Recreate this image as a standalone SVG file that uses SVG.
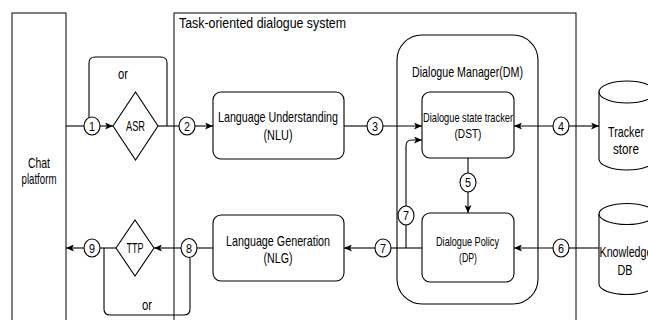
<svg xmlns="http://www.w3.org/2000/svg" width="648" height="320" viewBox="0 0 648 320">
<defs>
<style>
.box{fill:#fff;stroke:#000;stroke-width:1.1}
.frame{fill:none;stroke:#000;stroke-width:1}
.ln{fill:none;stroke:#000;stroke-width:1.1}
.num{fill:#fff;stroke:#000;stroke-width:1.1}
text{font-family:"Liberation Sans",Arial,sans-serif;fill:#000;text-anchor:middle;font-size:15px}
.s{font-size:13px}
.n{font-size:13px}
.l{text-anchor:start}
</style>
<marker id="arr" viewBox="0 0 8 7" refX="8" refY="3.5" markerWidth="8" markerHeight="7" markerUnits="userSpaceOnUse" orient="auto-start-reverse">
<path d="M0,0 L8,3.5 L0,7 L2,3.5 Z" fill="#000"/>
</marker>
</defs>
<rect width="648" height="320" fill="#fff"/>

<g id="chat-platform">
<rect class="frame" x="12" y="13" width="54" height="330"/>
<text x="39" y="168" textLength="22" lengthAdjust="spacingAndGlyphs">Chat</text>
<text x="39" y="184" textLength="35" lengthAdjust="spacingAndGlyphs">platform</text>
</g>

<g id="task-system">
<rect class="frame" x="174" y="13" width="402" height="330"/>
<text class="l" x="179" y="28" textLength="167" lengthAdjust="spacingAndGlyphs">Task-oriented dialogue system</text>
</g>

<g id="dm">
<rect class="box" x="397" y="35" width="141" height="269" rx="25"/>
<text x="467.5" y="77" textLength="111" lengthAdjust="spacingAndGlyphs">Dialogue Manager(DM)</text>
</g>

<g id="connectors">
<path class="ln" d="M66 126 H84"/>
<path class="ln" d="M100 126 H113" marker-end="url(#arr)"/>
<path class="ln" d="M89 117.5 V63 Q89 57 95 57 H161 Q167 57 167 63 V126"/>
<path class="ln" d="M158 126 H179"/>
<path class="ln" d="M195 126 H213" marker-end="url(#arr)"/>
<path class="ln" d="M344 126 H367"/>
<path class="ln" d="M383 126 H422" marker-end="url(#arr)"/>
<path class="ln" d="M514 126 H553" marker-start="url(#arr)"/>
<path class="ln" d="M569 126 H599" marker-end="url(#arr)"/>
<path class="ln" d="M468 158 V173"/>
<path class="ln" d="M468 192 V213" marker-end="url(#arr)"/>
<path class="ln" d="M599 248 H569"/>
<path class="ln" d="M553 248 H514" marker-end="url(#arr)"/>
<path class="ln" d="M422 248 H391"/>
<path class="ln" d="M375 248 H344" marker-end="url(#arr)"/>
<path class="ln" d="M406 248 V225"/>
<path class="ln" d="M406 206 V146 Q406 140 412 140 H422" marker-end="url(#arr)"/>
<path class="ln" d="M213 248 H197"/>
<path class="ln" d="M181 248 H154" marker-end="url(#arr)"/>
<path class="ln" d="M116 248 H100"/>
<path class="ln" d="M84 248 H66" marker-end="url(#arr)"/>
<path class="ln" d="M104 248 V309 Q104 315 110 315 H184 Q190 315 190 309 V257.5"/>
<text x="123" y="79" textLength="10" lengthAdjust="spacingAndGlyphs">or</text>
<text x="147" y="310" textLength="10" lengthAdjust="spacingAndGlyphs">or</text>
</g>

<g id="c1"><ellipse class="num" cx="92" cy="126" rx="8" ry="9"/><text class="n" x="92" y="130.5" textLength="6" lengthAdjust="spacingAndGlyphs">1</text></g>
<g id="c2"><ellipse class="num" cx="187" cy="126" rx="8" ry="9"/><text class="n" x="187" y="130.5" textLength="6" lengthAdjust="spacingAndGlyphs">2</text></g>
<g id="c3"><ellipse class="num" cx="375" cy="126" rx="8" ry="9"/><text class="n" x="375" y="130.5" textLength="6" lengthAdjust="spacingAndGlyphs">3</text></g>
<g id="c4"><ellipse class="num" cx="561" cy="126" rx="8" ry="9"/><text class="n" x="561" y="130.5" textLength="6" lengthAdjust="spacingAndGlyphs">4</text></g>
<g id="c5"><ellipse class="num" cx="468" cy="182.5" rx="8" ry="9.5"/><text class="n" x="468" y="187" textLength="6" lengthAdjust="spacingAndGlyphs">5</text></g>
<g id="c6"><ellipse class="num" cx="561" cy="248" rx="8" ry="9"/><text class="n" x="561" y="252.5" textLength="6" lengthAdjust="spacingAndGlyphs">6</text></g>
<g id="c7a"><ellipse class="num" cx="383" cy="248" rx="8" ry="9"/><text class="n" x="383" y="252.5" textLength="6" lengthAdjust="spacingAndGlyphs">7</text></g>
<g id="c7b"><ellipse class="num" cx="406" cy="215.5" rx="8" ry="9.5"/><text class="n" x="406" y="220" textLength="6" lengthAdjust="spacingAndGlyphs">7</text></g>
<g id="c8"><ellipse class="num" cx="189" cy="248" rx="8" ry="9.5"/><text class="n" x="189" y="252.5" textLength="6" lengthAdjust="spacingAndGlyphs">8</text></g>
<g id="c9"><ellipse class="num" cx="92" cy="248" rx="8" ry="9"/><text class="n" x="92" y="252.5" textLength="6" lengthAdjust="spacingAndGlyphs">9</text></g>

<g id="asr">
<polygon class="box" points="113,126 135.5,92 158,126 135.5,160"/>
<text x="135.5" y="131" textLength="19" lengthAdjust="spacingAndGlyphs">ASR</text>
</g>

<g id="ttp">
<polygon class="box" points="116,248 135,220 154,248 135,276"/>
<text x="135" y="253" textLength="17" lengthAdjust="spacingAndGlyphs">TTP</text>
</g>

<g id="nlu">
<rect class="box" x="213" y="92" width="131" height="67" rx="8"/>
<text x="278" y="122" textLength="120" lengthAdjust="spacingAndGlyphs">Language Understanding</text>
<text x="278" y="140" textLength="29" lengthAdjust="spacingAndGlyphs">(NLU)</text>
</g>

<g id="nlg">
<rect class="box" x="213" y="215" width="131" height="66" rx="8"/>
<text x="278" y="246" textLength="104" lengthAdjust="spacingAndGlyphs">Language Generation</text>
<text x="278" y="263" textLength="29" lengthAdjust="spacingAndGlyphs">(NLG)</text>
</g>

<g id="dst">
<rect class="box" x="422" y="92" width="92" height="66" rx="8"/>
<text class="s" x="468" y="122" textLength="90" lengthAdjust="spacingAndGlyphs">Dialogue state tracker</text>
<text class="s" x="468" y="138" textLength="27" lengthAdjust="spacingAndGlyphs">(DST)</text>
</g>

<g id="dp">
<rect class="box" x="422" y="213" width="92" height="69" rx="8"/>
<text class="s" x="467.5" y="246" textLength="63" lengthAdjust="spacingAndGlyphs">Dialogue Policy</text>
<text class="s" x="468" y="262" textLength="18" lengthAdjust="spacingAndGlyphs">(DP)</text>
</g>

<g id="tracker-store">
<path class="box" d="M599 92 A28 11 0 0 1 655 92 V159 A28 11 0 0 1 599 159 Z"/>
<path class="ln" d="M599 92 A28 11 0 0 0 655 92"/>
<text x="626" y="137" textLength="36" lengthAdjust="spacingAndGlyphs">Tracker</text>
<text x="626" y="154" textLength="26" lengthAdjust="spacingAndGlyphs">store</text>
</g>

<g id="knowledge-db">
<path class="box" d="M599 214 A28 10.5 0 0 1 655 214 V284 A28 10.5 0 0 1 599 284 Z"/>
<path class="ln" d="M599 214 A28 10.5 0 0 0 655 214"/>
<text x="626" y="257" textLength="53" lengthAdjust="spacingAndGlyphs">Knowledge</text>
<text x="625" y="275" textLength="15" lengthAdjust="spacingAndGlyphs">DB</text>
</g>
</svg>
